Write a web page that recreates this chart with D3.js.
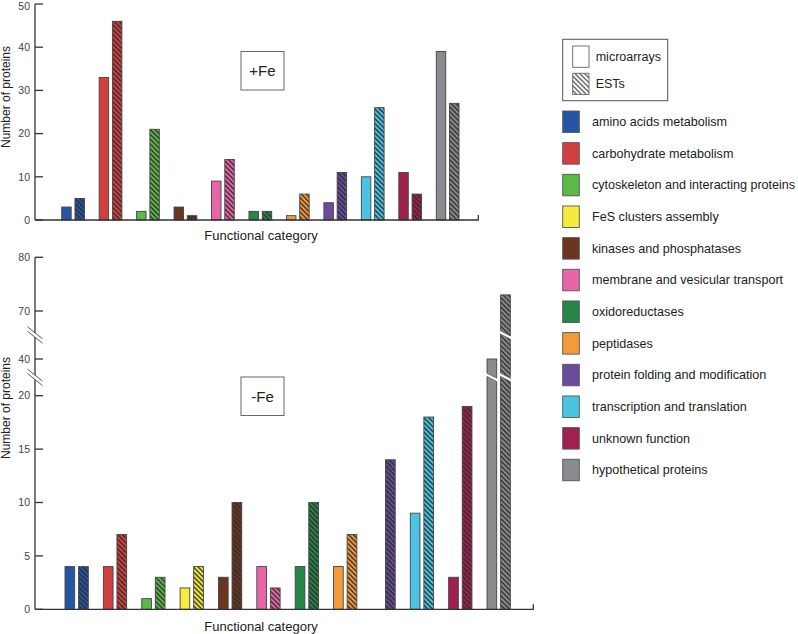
<!DOCTYPE html>
<html><head><meta charset="utf-8">
<script src="https://cdn.jsdelivr.net/npm/d3@7"></script>
<style>body{margin:0;background:#fff}svg{display:block}text{font-family:"Liberation Sans",Arial,sans-serif}</style>
</head><body>
<svg id="c" width="798" height="634"></svg>
<script>
const categories = ["amino acids metabolism","carbohydrate metabolism","cytoskeleton and interacting proteins","FeS clusters assembly","kinases and phosphatases","membrane and vesicular transport","oxidoreductases","peptidases","protein folding and modification","transcription and translation","unknown function","hypothetical proteins"];
const colors = ["#2456a4","#d33f3f","#5cb947","#f4eb3c","#6b3520","#e866a8","#278547","#f59a38","#6a4c9c","#4bc4e4","#a0204f","#8a8b8e"];
const series = ["microarrays","ESTs"];
// +Fe (null = category absent from the panel)
const plusFeMicro = [3,33,2,null,3,9,2,1,4,10,11,39];
const plusFeEST   = [5,46,21,null,1,14,2,6,11,26,6,27];
// -Fe
const minusFeMicro = [4,4,1,2,3,4,4,4,0,9,3,40];
const minusFeEST   = [4,7,3,4,10,2,10,7,14,18,19,73];
const topTicks = [0,10,20,30,40,50];
const bottomTicks = [0,5,10,15,20,40,70,80];
const bottomBreaks = [30,55];

const svg = d3.select("#c");
const defs = svg.append("defs");
function hatch(id, bg, line){
  const p = defs.append("pattern").attr("id",id).attr("patternUnits","userSpaceOnUse")
    .attr("width",3.4).attr("height",3.4).attr("patternTransform","rotate(-45)");
  p.append("rect").attr("width",3.4).attr("height",3.4).attr("fill",bg);
  p.append("line").attr("x1",1).attr("x2",1).attr("y1",0).attr("y2",3.4)
    .attr("stroke",line).attr("stroke-width",1.3);
}
colors.forEach((c,i)=>hatch("h"+i,c,"#2a2a2a"));
hatch("hw","#fff","#555");

const axisColor="#333", tickFont=10.5;

function panel(opt){
  const g = svg.append("g");
  const idx = categories.map((c,i)=>i).filter(i=>opt.micro[i]!==null);
  const x0 = d3.scaleBand().domain(idx).range(opt.xr).paddingInner(0.393).paddingOuter(0);
  const x1 = d3.scaleBand().domain(series).range([0,x0.bandwidth()]).paddingInner(0.286);
  const y = opt.y;
  idx.forEach(i=>{
    [[opt.micro[i],"microarrays",colors[i]],[opt.est[i],"ESTs","url(#h"+i+")"]].forEach(([v,s,f])=>{
      if(!v) return;
      const bx = x0(i)+x1(s), bw = x1.bandwidth();
      g.append("rect").attr("x",bx).attr("y",y(v)).attr("width",bw).attr("height",y(0)-y(v))
        .attr("fill",f).attr("stroke","#444").attr("stroke-width",0.9);
      (opt.breaks||[]).forEach(b=>{
        if(v>b){
          const yc=y(b);
          const xa=bx-2.5, xb=bx+bw+2.5, dy=3.8, t=1.6;
          g.append("path").attr("d",`M${xa},${yc-dy-t}L${xb},${yc+dy-t}L${xb},${yc+dy+t}L${xa},${yc-dy+t}Z`).attr("fill","#fff");
          [-t,t].forEach(o=>g.append("line").attr("x1",bx).attr("x2",bx+bw)
            .attr("y1",yc-dy*(bw/(xb-xa))+o).attr("y2",yc+dy*(bw/(xb-xa))+o)
            .attr("stroke","#555").attr("stroke-width",0.7));
        }
      });
    });
  });
  g.append("line").attr("x1",35).attr("x2",35).attr("y1",y(0)).attr("y2",y(opt.ticks[opt.ticks.length-1]))
    .attr("stroke",axisColor).attr("stroke-width",1.3);
  opt.ticks.forEach(t=>{
    g.append("line").attr("x1",35).attr("x2",43).attr("y1",y(t)).attr("y2",y(t)).attr("stroke",axisColor).attr("stroke-width",1.3);
    g.append("text").attr("x",30).attr("y",Math.max(y(t),6)).attr("dy","0.36em").attr("text-anchor","end")
      .attr("font-size",tickFont).attr("fill","#444").text(t);
  });
  (opt.breaks||[]).forEach(b=>{
    const yc=y(b), dx=7.5, dy=6, t=2.2;
    g.append("path").attr("d",`M${35-dx},${yc-dy-t}L${35+dx},${yc+dy-t}L${35+dx},${yc+dy+t}L${35-dx},${yc-dy+t}Z`).attr("fill","#fff");
    [-t,t].forEach(o=>g.append("line").attr("x1",35-dx).attr("x2",35+dx).attr("y1",yc-dy+o).attr("y2",yc+dy+o)
      .attr("stroke","#444").attr("stroke-width",0.9));
  });
  g.append("path").attr("d",`M35,${y(0)}H${opt.xEnd}V${y(0)-5}`).attr("fill","none").attr("stroke",axisColor).attr("stroke-width",1.3);
  g.append("text").attr("x",261).attr("y",opt.xLabelY).attr("text-anchor","middle").attr("font-size",13).attr("fill","#222").text("Functional category");
  g.append("text").attr("transform",`translate(10,${opt.yLabelY}) rotate(-90)`).attr("text-anchor","middle")
    .attr("font-size",12).attr("fill","#222").text("Number of proteins");
  g.append("rect").attr("x",241).attr("y",opt.boxY).attr("width",43).attr("height",38.5).attr("fill","#fff").attr("stroke","#666").attr("stroke-width",1);
  g.append("text").attr("x",262.5).attr("y",opt.boxY+19.5).attr("dy","0.36em").attr("text-anchor","middle").attr("font-size",15).attr("fill","#222").text(opt.label);
}

panel({micro:plusFeMicro, est:plusFeEST, xr:[61.7,459], xEnd:478.3,
  y:d3.scaleLinear().domain([0,50]).range([220,4]), ticks:topTicks,
  xLabelY:239.5, yLabelY:97, boxY:51.5, label:"+Fe"});
panel({micro:minusFeMicro, est:minusFeEST, xr:[65,510.3], xEnd:533.3,
  y:d3.scaleLinear().domain([0,20,40,70,80]).range([609.3,395.7,359,311,257.3]), ticks:bottomTicks, breaks:bottomBreaks,
  xLabelY:630.5, yLabelY:408, boxY:377, label:"-Fe"});

const lg = svg.append("g");
lg.append("rect").attr("x",562.7).attr("y",39.3).attr("width",105).attr("height",61.4).attr("fill","#fff").attr("stroke","#555").attr("stroke-width",1);
[["microarrays","#fff"],["ESTs","url(#hw)"]].forEach(([s,f],i)=>{
  const yy = 46 + i*27.3;
  lg.append("rect").attr("x",572.7).attr("y",yy).attr("width",16.3).attr("height",21.3).attr("fill",f).attr("stroke","#666").attr("stroke-width",0.9);
  lg.append("text").attr("x",595.7).attr("y",yy+10.6).attr("dy","0.36em").attr("font-size",12.5).attr("fill","#222").text(s);
});
categories.forEach((c,i)=>{
  const yy = 111 + i*31.66;
  const t = lg.append("text").attr("x",592).attr("y",yy+10.5).attr("dy","0.36em").attr("font-size",12.6).attr("fill","#222").text(c);
  if(i===2) t.attr("textLength",203).attr("lengthAdjust","spacing");
  lg.append("rect").attr("x",562.7).attr("y",yy).attr("width",16.6).attr("height",21.5).attr("fill",colors[i]).attr("stroke","#555").attr("stroke-width",0.9);
});
</script>
</body></html>
